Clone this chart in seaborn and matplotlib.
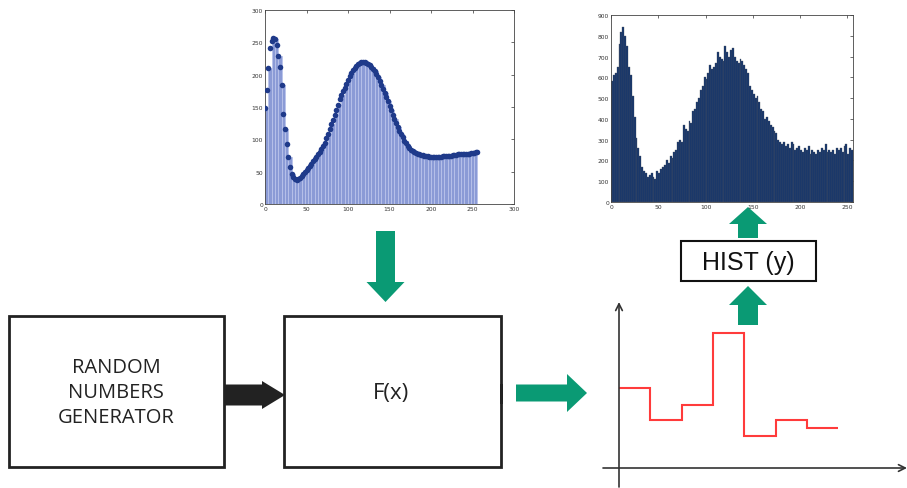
import numpy as np
import pandas as pd
import matplotlib
matplotlib.use('Agg')
import matplotlib.pyplot as plt
import matplotlib.patches as mpatches
import seaborn as sns

W, H = 907, 489

# F(x): target density (top-left), one value every 2 units from 0 to 256
fx_y = [148, 177, 210, 242, 252, 256, 255, 246, 229, 212, 184, 139, 116, 93, 72, 57,
        46, 41, 38, 37, 38, 40, 44, 47, 50, 53, 56, 59, 62, 66, 69, 73,
        77, 80, 85, 90, 95, 102, 109, 116, 123, 130, 137, 145, 153, 162, 168, 174,
        180, 186, 192, 198, 203, 207, 211, 214, 216, 218, 219, 219, 219, 218, 217, 215,
        212, 209, 206, 201, 196, 190, 184, 178, 172, 165, 159, 152, 145, 138, 131, 125,
        119, 113, 108, 103, 98, 94, 90, 87, 84, 82, 81, 79, 78, 77, 76, 76,
        75, 74, 74, 73, 73, 73, 73, 73, 73, 73, 73, 74, 74, 74, 75, 75,
        75, 76, 76, 76, 77, 77, 77, 77, 77, 78, 78, 78, 79, 79, 79, 80, 80]
fx_x = np.arange(0, 257, 2)

# histogram of the generated values (top-right), bins of width 2
hist_y = [580, 610, 620, 650, 760, 820, 840, 800, 750, 650, 610, 510, 410, 310, 260, 220,
          170, 150, 140, 120, 130, 140, 120, 110, 150, 140, 160, 170, 180, 200, 190, 220,
          210, 240, 250, 290, 300, 290, 370, 350, 340, 390, 380, 440, 450, 480, 500, 540,
          560, 600, 590, 620, 660, 640, 650, 670, 720, 700, 690, 680, 750, 720, 700, 730,
          740, 700, 680, 670, 690, 680, 660, 640, 620, 560, 540, 520, 500, 510, 480, 450,
          440, 400, 410, 390, 370, 360, 340, 330, 300, 290, 280, 290, 270, 280, 260, 290,
          280, 250, 260, 270, 250, 240, 260, 250, 270, 230, 250, 240, 230, 250, 240, 260,
          250, 280, 240, 250, 240, 250, 230, 260, 250, 260, 240, 270, 280, 230, 260, 250]
hist_x = np.arange(0, 256, 2)

# sketch of y values (bottom-right), one level per step
step_levels = [80, 48, 63, 135, 32, 48, 40]
step_edges = np.arange(len(step_levels) + 1)

GREEN = '#0a9a74'
DARK = '#222222'

sns.set_style('white')
plt.rcParams['font.family'] = ['DejaVu Sans']

fig = plt.figure(figsize=(W / 100, H / 100), dpi=100)


def px_axes(x0, y0, x1, y1):
    return fig.add_axes([x0 / W, (H - y1) / H, (x1 - x0) / W, (y1 - y0) / H])


def arrow(ax, tail, tip, shaft_w, head_w, head_len, color):
    tail = np.array(tail, float)
    tip = np.array(tip, float)
    d = tip - tail
    u = d / np.hypot(*d)
    n = np.array([-u[1], u[0]])
    base = tip - u * head_len
    pts = [tail + n * shaft_w / 2, base + n * shaft_w / 2, base + n * head_w / 2, tip,
           base - n * head_w / 2, base - n * shaft_w / 2, tail - n * shaft_w / 2]
    ax.add_patch(mpatches.Polygon(pts, closed=True, color=color, lw=0))


def style_chart(ax):
    ax.tick_params(direction='in', top=True, right=True, labelsize=4.3, length=2.5,
                   width=0.5, colors='#333333', pad=1.5)
    for s in ax.spines.values():
        s.set_visible(True)
        s.set_linewidth(0.6)
        s.set_color('#444444')
    ax.set_xlabel('')
    ax.set_ylabel('')


# ---- diagram layer ----
bg = fig.add_axes([0, 0, 1, 1])
bg.set_xlim(0, W)
bg.set_ylim(H, 0)
bg.axis('off')

bg.add_patch(mpatches.Rectangle((9, 317), 215, 151, fill=False, lw=2, edgecolor=DARK))
bg.add_patch(mpatches.Rectangle((284, 317), 217, 151, fill=False, lw=2, edgecolor=DARK))
bg.add_patch(mpatches.Rectangle((499.5, 385), 3, 20, color=DARK, lw=0))
bg.add_patch(mpatches.Rectangle((681, 242), 135, 40, fill=False, lw=1.5, edgecolor='#111111'))

arrow(bg, (224, 396), (285, 396), 21, 28, 23, DARK)
arrow(bg, (385.5, 232), (385.5, 303), 19, 38, 20, GREEN)
arrow(bg, (516, 394), (587, 394), 17, 38, 20, GREEN)
arrow(bg, (748, 239), (748, 208), 20, 38, 17, GREEN)
arrow(bg, (748, 326), (748, 287), 20, 38, 19, GREEN)

bg.text(116, 393, 'RANDOM\nNUMBERS\nGENERATOR', ha='center', va='center',
        fontsize=14.5, family=['Open Sans', 'DejaVu Sans'], color=DARK, linespacing=1.32)
bg.text(391, 394, 'F(x)', ha='center', va='center', fontsize=16,
        family=['Open Sans', 'DejaVu Sans'], color=DARK)
bg.text(748, 263, 'HIST (y)', ha='center', va='center', fontsize=18,
        family=['Liberation Sans', 'DejaVu Sans'], color='#111111')

# ---- top-left: F(x) ----
bars = pd.DataFrame({'x': fx_x[::2][:64], 'w': fx_y[::2][:64]})
ax1 = px_axes(265, 11, 514, 205)
sns.histplot(data=bars, x='x', weights='w', bins=list(range(0, 260, 4)),
             color='#8b9bd6', edgecolor='#b9c3ea', linewidth=0.6, alpha=1, ax=ax1)
sns.scatterplot(x=fx_x, y=fx_y, color='#1f3a8a', s=16, linewidth=0, ax=ax1, zorder=3)
ax1.set_xlim(0, 300)
ax1.set_ylim(0, 300)
ax1.set_xticks(range(0, 301, 50))
ax1.set_yticks(range(0, 301, 50))
style_chart(ax1)

# ---- top-right: histogram ----
counts = pd.DataFrame({'x': hist_x, 'w': hist_y})
ax2 = px_axes(611, 16, 853, 203)
sns.histplot(data=counts, x='x', weights='w', bins=list(range(0, 258, 2)),
             color='#12336c', edgecolor='#4a5260', linewidth=0.25, alpha=1, ax=ax2)
ax2.set_xlim(0, 256)
ax2.set_ylim(0, 900)
ax2.set_xticks(range(0, 251, 50))
ax2.set_yticks(range(0, 901, 100))
style_chart(ax2)

# ---- bottom-right: step sketch ----
unit = 31.3
ax3 = px_axes(603, 303, 907, 488)
ax3.stairs(step_levels, step_edges, baseline=None, color='#ff3b3b', lw=1.5)
ax3.set_xlim(-16 / unit, 288 / unit)
ax3.set_ylim(-19, 166)
ax3.axis('off')
ax3.annotate('', xy=(288 / unit, 0), xytext=(-16 / unit, 0),
             arrowprops=dict(arrowstyle='->', color='#333333', lw=1.2,
                             mutation_scale=12, shrinkA=0, shrinkB=0))
ax3.annotate('', xy=(0, 166), xytext=(0, -19),
             arrowprops=dict(arrowstyle='->', color='#333333', lw=1.2,
                             mutation_scale=12, shrinkA=0, shrinkB=0))

fig.savefig('out.png', dpi=100)
